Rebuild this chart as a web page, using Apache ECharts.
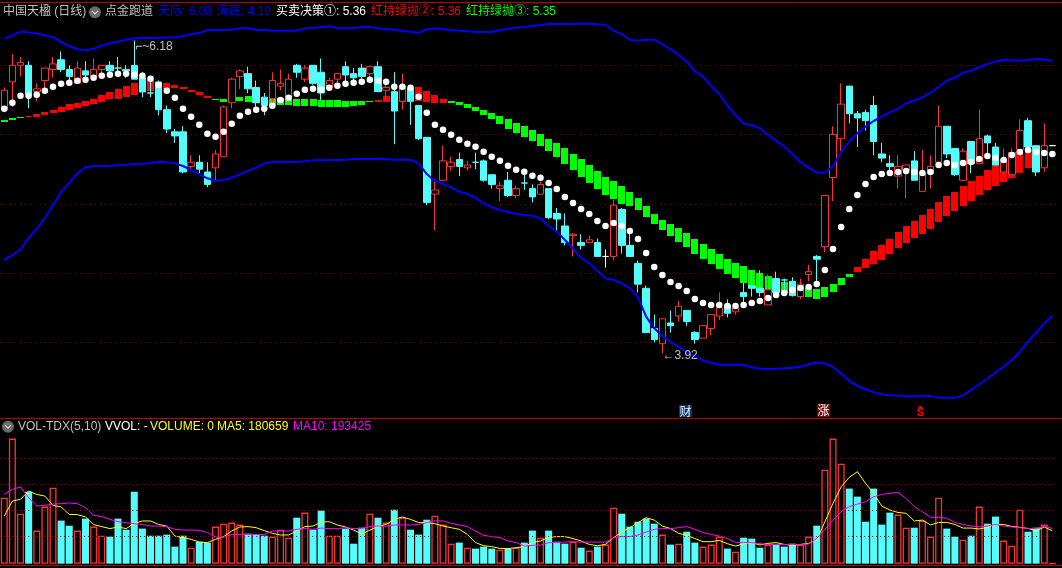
<!DOCTYPE html>
<html><head><meta charset="utf-8">
<style>html,body{margin:0;padding:0;background:#000;width:1062px;height:568px;overflow:hidden}#c{width:1062px;height:568px}</style>
<script src="https://cdn.jsdelivr.net/npm/echarts@6/dist/echarts.min.js"></script>
</head><body><div id="c"></div>
<script>
// [open, close, low, high]
const candles = [
[5.68,5.82,5.66,5.84],[5.88,6.00,5.70,6.08],[6.00,6.02,5.92,6.06],[6.00,5.79,5.69,6.03],[5.81,5.83,5.74,5.87],[5.89,5.98,5.81,5.98],[5.97,6.01,5.91,6.06],[6.04,5.97,5.95,6.10],[5.97,5.92,5.88,6.00],[5.87,5.98,5.87,6.03],
[5.96,5.93,5.89,6.03],[5.91,5.97,5.89,6.05],[5.97,6.00,5.91,6.00],[6.00,5.96,5.92,6.03],[5.98,5.98,5.92,6.06],[5.97,5.96,5.91,6.00],[6.00,5.90,5.90,6.18],[5.91,5.81,5.77,5.95],[5.80,5.80,5.77,5.91],[5.88,5.68,5.64,5.89],
[5.68,5.54,5.51,5.71],[5.52,5.49,5.44,5.54],[5.52,5.23,5.22,5.56],[5.27,5.30,5.24,5.35],[5.30,5.25,5.22,5.35],[5.23,5.14,5.12,5.30],[5.26,5.36,5.16,5.39],[5.34,5.70,5.34,5.71],[5.73,5.90,5.69,5.91],[5.92,5.96,5.83,5.97],
[5.94,5.83,5.80,5.99],[5.84,5.73,5.70,5.89],[5.77,5.71,5.64,5.80],[5.76,5.89,5.71,5.95],[5.85,5.87,5.82,5.97],[5.76,5.90,5.75,5.94],[6.00,5.95,5.91,6.01],[5.90,5.98,5.88,6.00],[6.00,5.87,5.86,6.00],[5.95,5.80,5.75,6.05],
[5.84,5.89,5.82,5.91],[5.90,5.94,5.84,5.94],[5.99,5.93,5.87,6.03],[5.94,5.91,5.86,5.98],[5.98,5.92,5.87,6.01],[5.94,5.99,5.91,6.00],[5.99,5.81,5.81,6.03],[5.82,5.84,5.75,5.89],[5.81,5.67,5.43,5.95],[5.74,5.85,5.68,5.94],
[5.83,5.74,5.57,5.85],[5.71,5.47,5.46,5.71],[5.48,5.01,4.99,5.48],[5.07,5.10,4.81,5.18],[5.17,5.31,5.17,5.42],[5.27,5.30,5.24,5.34],[5.32,5.27,5.20,5.37],[5.26,5.28,5.24,5.31],[5.30,5.30,5.25,5.37],[5.31,5.17,5.16,5.32],
[5.21,5.14,5.11,5.21],[5.11,5.13,5.02,5.16],[5.17,5.06,5.05,5.23],[5.06,5.11,5.04,5.13],[5.15,5.15,5.10,5.21],[5.11,5.05,5.01,5.14],[5.07,5.14,5.07,5.16],[5.11,4.90,4.89,5.11],[4.93,4.89,4.80,4.97],[4.84,4.72,4.70,4.93],
[4.77,4.78,4.62,4.79],[4.72,4.70,4.67,4.78],[4.72,4.74,4.72,4.77],[4.72,4.62,4.62,4.75],[4.62,4.62,4.54,4.67],[4.62,4.99,4.59,5.03],[4.96,4.70,4.64,4.97],[4.70,4.62,4.62,4.80],[4.57,4.42,4.36,4.59],[4.39,4.07,4.07,4.41],
[4.10,4.02,4.00,4.20],[3.99,4.17,3.92,4.17],[4.14,4.12,4.07,4.23],[4.19,4.26,4.15,4.30],[4.23,4.15,4.12,4.23],[4.07,4.02,3.99,4.08],[4.03,4.12,4.03,4.12],[4.10,4.20,4.05,4.20],[4.19,4.25,4.16,4.36],[4.27,4.21,4.18,4.31],
[4.22,4.25,4.20,4.28],[4.36,4.33,4.27,4.43],[4.41,4.39,4.33,4.52],[4.39,4.36,4.33,4.52],[4.27,4.38,4.27,4.49],[4.46,4.36,4.36,4.51],[4.45,4.45,4.34,4.46],[4.44,4.34,4.33,4.47],[4.33,4.42,4.31,4.46],[4.49,4.51,4.44,4.56],
[4.62,4.60,4.43,4.63],[4.69,5.06,4.65,5.06],[5.19,5.50,5.02,5.56],[5.47,5.72,5.38,5.87],[5.85,5.65,5.58,5.85],[5.65,5.62,5.41,5.67],[5.66,5.60,5.53,5.68],[5.71,5.45,5.35,5.78],[5.36,5.33,5.30,5.44],[5.29,5.27,5.21,5.35],
[5.20,5.27,5.11,5.35],[5.24,5.28,5.04,5.28],[5.31,5.17,5.17,5.38],[5.09,5.22,5.09,5.39],[5.22,5.27,5.11,5.35],[5.30,5.56,5.30,5.71],[5.56,5.36,5.33,5.56],[5.40,5.21,5.20,5.40],[5.17,5.38,5.17,5.40],[5.45,5.29,5.22,5.45],
[5.29,5.47,5.29,5.68],[5.49,5.44,5.35,5.50],[5.41,5.28,5.28,5.44],[5.23,5.32,5.23,5.40],[5.21,5.37,5.21,5.40],[5.39,5.53,5.38,5.61],[5.60,5.41,5.39,5.62],[5.42,5.23,5.20,5.42],[5.26,5.42,5.23,5.58],[5.42,5.42,5.42,5.42]
];
const cyanDoji = [14,18,58,64,96];
const whiteDoji = [74,129];
const upperBand = [
6.193,6.215,6.244,6.237,6.230,6.215,6.204,6.168,6.139,6.118,
6.108,6.120,6.142,6.159,6.170,6.185,6.195,6.197,6.197,6.199,
6.201,6.202,6.212,6.224,6.233,6.253,6.255,6.255,6.257,6.267,
6.267,6.255,6.255,6.250,6.250,6.250,6.250,6.267,6.269,6.277,
6.282,6.269,6.267,6.267,6.277,6.277,6.267,6.262,6.257,6.248,
6.243,6.235,6.260,6.267,6.260,6.253,6.250,6.246,6.240,6.240,
6.240,6.255,6.262,6.273,6.277,6.284,6.291,6.298,6.298,6.298,
6.298,6.300,6.300,6.296,6.293,6.250,6.224,6.183,6.178,6.185,
6.185,6.152,6.116,6.074,6.026,5.959,5.918,5.851,5.793,5.708,
5.641,5.578,5.569,5.545,5.497,5.456,5.412,5.360,5.300,5.261,
5.225,5.225,5.273,5.376,5.448,5.509,5.557,5.598,5.629,5.661,
5.685,5.726,5.744,5.769,5.802,5.845,5.889,5.910,5.947,5.961,
5.988,6.009,6.027,6.038,6.035,6.035,6.038,6.045,6.042,6.031];
const lowerBand = [
4.594,4.630,4.670,4.753,4.818,4.898,4.991,5.085,5.152,5.220,
5.264,5.271,5.273,5.275,5.278,5.282,5.287,5.290,5.295,5.304,
5.300,5.292,5.273,5.244,5.213,5.184,5.167,5.172,5.188,5.213,
5.237,5.261,5.292,5.302,5.302,5.302,5.302,5.307,5.314,5.314,
5.316,5.316,5.318,5.324,5.324,5.324,5.324,5.321,5.318,5.318,
5.316,5.292,5.215,5.165,5.143,5.119,5.087,5.071,5.044,5.001,
4.975,4.955,4.941,4.926,4.919,4.912,4.895,4.840,4.799,4.739,
4.679,4.607,4.570,4.517,4.462,4.450,4.426,4.392,4.325,4.185,
4.101,4.046,4.004,3.968,3.928,3.896,3.867,3.853,3.838,3.838,
3.838,3.836,3.820,3.809,3.807,3.807,3.812,3.817,3.824,3.841,
3.853,3.848,3.820,3.776,3.721,3.685,3.661,3.639,3.625,3.617,
3.615,3.610,3.610,3.612,3.612,3.600,3.600,3.600,3.617,3.656,
3.697,3.740,3.781,3.824,3.872,3.932,4.004,4.069,4.137,4.192];
const decisionDots = [
5.687,5.730,5.781,5.781,5.788,5.817,5.846,5.867,5.874,5.889,
5.896,5.911,5.925,5.932,5.939,5.939,5.932,5.925,5.903,5.858,
5.817,5.766,5.687,5.629,5.571,5.506,5.485,5.521,5.578,5.636,
5.665,5.679,5.687,5.708,5.749,5.766,5.795,5.824,5.831,5.824,
5.838,5.853,5.867,5.874,5.882,5.896,5.889,5.882,5.846,5.846,
5.838,5.773,5.658,5.571,5.535,5.499,5.463,5.434,5.412,5.376,
5.340,5.311,5.275,5.246,5.232,5.203,5.188,5.150,5.107,5.049,
5.006,4.962,4.926,4.876,4.840,4.861,4.840,4.804,4.746,4.645,
4.544,4.486,4.435,4.407,4.370,4.313,4.284,4.269,4.269,4.262,
4.262,4.269,4.284,4.298,4.320,4.342,4.356,4.378,4.392,4.399,
4.421,4.522,4.674,4.833,4.962,5.064,5.143,5.194,5.215,5.222,
5.230,5.237,5.230,5.222,5.230,5.280,5.295,5.280,5.295,5.302,
5.324,5.345,5.331,5.316,5.352,5.374,5.388,5.374,5.367,5.360];
const ribbonTwo = [
5.593,5.605,5.620,5.634,5.648,5.665,5.677,5.699,5.721,5.728,
5.742,5.757,5.786,5.807,5.829,5.851,5.872,5.894,5.894,5.879,
5.872,5.858,5.843,5.822,5.807,5.778,5.749,5.735,5.742,5.742,
5.735,5.728,5.721,5.713,5.713,5.713,5.706,5.706,5.706,5.699,
5.699,5.699,5.699,5.706,5.713,5.735,5.749,5.778,5.793,5.814,
5.836,5.843,5.814,5.786,5.757,5.728,5.713,5.692,5.670,5.641,
5.612,5.576,5.540,5.511,5.482,5.453,5.417,5.381,5.338,5.287,
5.244,5.194,5.150,5.107,5.064,5.035,4.999,4.984,4.955,4.905,
4.854,4.811,4.768,4.724,4.688,4.638,4.601,4.565,4.529,4.493,
4.464,4.428,4.407,4.385,4.378,4.363,4.356,4.334,4.327,4.327,
4.313,4.327,4.363,4.414,4.472,4.544,4.601,4.659,4.703,4.746,
4.796,4.840,4.876,4.919,4.962,5.013,5.056,5.085,5.129,5.165,
5.201,5.244,5.280,5.309,5.345,5.381,5.396,5.388,5.374,5.360];
const ribbonThree = [
5.605,5.620,5.627,5.627,5.627,5.641,5.653,5.663,5.677,5.692,
5.706,5.721,5.735,5.757,5.757,5.771,5.786,5.800,5.814,5.822,
5.829,5.836,5.829,5.807,5.786,5.764,5.755,5.757,5.764,5.771,
5.778,5.764,5.757,5.757,5.764,5.757,5.757,5.757,5.757,5.749,
5.749,5.749,5.742,5.742,5.742,5.742,5.735,5.735,5.728,5.735,
5.742,5.742,5.735,5.728,5.728,5.742,5.735,5.721,5.699,5.677,
5.656,5.634,5.612,5.583,5.562,5.533,5.504,5.468,5.439,5.403,
5.360,5.324,5.280,5.237,5.194,5.165,5.129,5.085,5.042,4.984,
4.926,4.883,4.854,4.825,4.789,4.746,4.710,4.674,4.638,4.601,
4.573,4.551,4.522,4.500,4.479,4.457,4.435,4.414,4.399,4.392,
4.385,4.399,4.421,4.464,4.493,4.508,4.536,4.565,4.594,4.638,
4.681,4.717,4.753,4.782,4.818,4.869,4.912,4.948,4.984,5.020,
5.064,5.100,5.129,5.157,5.186,5.222,5.259,5.287,5.316,5.350];
// volume, thousands
const volumes = [
363,688,275,396,182,314,418,237,209,182,
248,204,154,149,248,187,396,193,154,154,
160,94,154,88,121,116,204,220,226,215,
165,160,154,149,187,143,253,281,187,292,
154,154,193,110,198,275,253,226,297,253,
187,160,242,264,215,110,116,88,83,94,
83,77,83,88,116,182,143,182,121,110,
121,88,72,94,105,308,275,204,231,248,
220,160,105,110,176,116,94,105,149,83,
66,143,138,88,105,105,94,110,105,149,
209,517,688,550,413,369,231,413,215,281,
270,198,198,237,149,363,193,149,132,154,
314,220,259,127,99,297,176,198,215,0];
const ma5 = [
262,345,354,400,381,372,321,312,271,270,
257,215,204,193,202,193,222,235,235,216,
207,152,143,134,119,116,134,149,180,202,
204,198,182,167,158,158,180,204,207,229,
231,213,202,185,163,185,204,216,244,257,
244,226,226,220,207,198,189,161,116,99,
94,84,83,88,94,116,125,145,149,149,
138,125,106,99,106,143,174,198,226,253,
240,207,193,167,156,138,121,121,128,110,
97,110,116,103,112,116,106,101,106,112,
130,231,332,423,475,506,442,387,317,295,
282,277,235,240,213,227,227,216,196,196,
191,200,216,216,205,200,194,180,202,180.659];
const ma10 = [
381,409,422,363,317,321,328,330,334,330,
308,266,259,244,231,226,220,216,207,207,
204,189,185,185,183,171,147,145,161,161,
161,161,161,180,180,180,189,193,189,196,
193,193,198,193,194,204,207,207,213,213,
213,216,226,236,235,222,213,204,180,156,
149,143,125,116,97,101,103,116,116,119,
121,119,119,119,119,143,149,149,158,174,
189,193,193,198,204,189,171,161,152,138,
116,116,116,110,106,106,106,106,106,108,
139,189,240,286,314,328,341,368,381,387,
392,359,314,286,255,255,249,227,216,207,
203,207,216,207,202,198,194,194,205,193.425];
const volumeGuides = [151,294,437,580];
const categories = candles.map((_, i) => i);
const highLabel = {index:16, price:6.18, text:'6.18'};
const lowLabel = {index:81, price:3.92, text:'3.92'};

const RED='#ff3232', CYAN='#54fcfc', WHITE='#ffffff', GRAY='#c0c0c0';
const FONT='"Liberation Sans","Noto Sans CJK SC",sans-serif';

function candleColor(i){
  const [o,c]=candles[i];
  if(c>o) return RED;
  if(c<o) return CYAN;
  if(whiteDoji.includes(i)) return WHITE;
  return cyanDoji.includes(i)?CYAN:RED;
}
const candleData = candles.map((v,i)=>{
  const col=candleColor(i);
  const fill = v[1]>v[0] ? '#000' : col;
  return {value:v,itemStyle:{color:fill,color0:fill,borderColor:col,borderColor0:col,borderColorDoji:col,borderWidth:1}};
});
const volData = volumes.map((v,i)=>{
  const isCyan=candleColor(i)===CYAN;
  return {value:v,itemStyle:isCyan?{color:CYAN,borderWidth:0}:{color:'#000',borderColor:RED,borderWidth:1.3}};
});
const ribbonData = categories.map(i=>[i,ribbonTwo[i],ribbonThree[i]]);

function header(x,y,text,fill){
  return {type:'text',x,y,silent:true,z:50,style:{text,fill,font:'12px '+FONT,textVerticalAlign:'middle'}};
}
function chevron(cx,cy){
  return [
    {type:'circle',shape:{cx,cy,r:6},silent:true,z:50,style:{fill:'#6a6a6a'}},
    {type:'polyline',shape:{points:[[cx-3,cy-1.5],[cx,cy+1.5],[cx+3,cy-1.5]]},silent:true,z:51,style:{stroke:'#e0e0e0',lineWidth:1.2,fill:'none'}}
  ];
}
function rule(y,color){
  return {type:'line',shape:{x1:0,y1:y,x2:1062,y2:y},silent:true,z:40,style:{stroke:color,lineWidth:1}};
}

const graphics = [
  rule(2.5,'#c00000'),rule(418.5,'#c00000'),rule(565.5,'#c00000'),
  header(3,12,'中国天楹 (日线)',GRAY),
  ...chevron(95,12.3),
  header(105,12,'点金跑道',GRAY),
  header(158,12,'天际: 6.03','#0000ff'),
  header(217,12,'海底: 4.19','#0000ff'),
  header(276,12,'买卖决策①: 5.36',WHITE),
  header(371,12,'红持绿抛②: 5.36','#ff0000'),
  header(466,12,'红持绿抛③: 5.35','#00ff00'),
  ...chevron(8,426.7),
  header(18,426.5,'VOL-TDX(5,10)',GRAY),
  header(105,426.5,'VVOL: -',WHITE),
  header(150,426.5,'VOLUME: 0','#ffff00'),
  header(217,426.5,'MA5: 180659','#ffff00'),
  header(293,426.5,'MA10: 193425','#ff00ff'),
  {type:'rect',shape:{x:679,y:405,width:13,height:12},silent:true,z:45,style:{fill:'#0a3a6a'}},
  {type:'text',x:685.5,y:411,silent:true,z:46,style:{text:'财',fill:'#e8f0ff',font:'12px "Noto Sans CJK SC"',textAlign:'center',textVerticalAlign:'middle'}},
  {type:'rect',shape:{x:817,y:404,width:13,height:13},silent:true,z:45,style:{fill:'#7a0a0a'}},
  {type:'text',x:823.5,y:410.5,silent:true,z:46,style:{text:'涨',fill:'#ffffff',font:'12px "Noto Sans CJK SC"',textAlign:'center',textVerticalAlign:'middle'}},
  {type:'polygon',shape:{points:[[920.5,405.5],[917.5,408.5],[923.5,408.5]]},silent:true,z:46,style:{fill:'#ff0000'}},
  {type:'text',x:920.5,y:413,silent:true,z:46,style:{text:'S',fill:'#ff0000',font:'bold 11px "Liberation Sans"',textAlign:'center',textVerticalAlign:'middle'}}
];

const chart = echarts.init(document.getElementById('c'),null,{renderer:'canvas'});
chart.setOption({
  animation:false,
  backgroundColor:'#000',
  graphic:graphics,
  grid:[
    {left:0.2,width:1056.25,top:3,height:408.55,containLabel:false},
    {left:0.2,width:1056.25,top:418.7,height:145,containLabel:false}
  ],
  xAxis:[
    {type:'category',gridIndex:0,data:categories,show:false,boundaryGap:true},
    {type:'category',gridIndex:1,data:categories,show:false,boundaryGap:true}
  ],
  yAxis:[
    {type:'value',gridIndex:0,min:3.5,max:6.45,interval:0.5,show:true,
     axisLine:{show:false},axisTick:{show:false},axisLabel:{show:false},
     splitLine:{show:true,showMaxLine:false,showMinLine:false,lineStyle:{color:'#8a0000',type:[1,4],width:1}}},
    {type:'value',gridIndex:1,min:0,max:797.5,show:false,splitLine:{show:false}}
  ],
  series:[
    {type:'candlestick',name:'K',xAxisIndex:0,yAxisIndex:0,data:candleData,barWidth:7,clip:false,
     markPoint:{symbol:'circle',symbolSize:0,silent:true,animation:false,
       data:[
        {coord:[highLabel.index,highLabel.price],label:{show:true,position:'right',distance:1,offset:[0,6],formatter:'⌐~'+highLabel.text,color:GRAY,fontSize:12,fontFamily:FONT}},
        {coord:[lowLabel.index,lowLabel.price],label:{show:true,position:'right',distance:0,offset:[0,2],formatter:'←'+lowLabel.text,color:GRAY,fontSize:12,fontFamily:FONT}}
       ]}},
    {type:'scatter',name:'买卖决策①',xAxisIndex:0,yAxisIndex:0,data:decisionDots,symbol:'circle',symbolSize:6.5,itemStyle:{color:'#fff',opacity:1},silent:true},
    {type:'custom',name:'红持绿抛',xAxisIndex:0,yAxisIndex:0,data:ribbonData,encode:{x:0,y:[1,2]},silent:true,
     renderItem:function(params,api){
       const i=api.value(0),two=api.value(1),three=api.value(2);
       const a=api.coord([i,two]),b=api.coord([i,three]);
       const x=Math.round(a[0]-3.5),t=Math.round(Math.min(a[1],b[1])),bt=Math.round(Math.max(a[1],b[1]));
       return {type:'rect',shape:{x:x,y:t,width:7,height:Math.max(1,bt-t)},style:{fill:two>=three?'#ff0000':'#00ff00'}};
     }},
    {type:'line',name:'天际',xAxisIndex:0,yAxisIndex:0,data:upperBand,showSymbol:false,lineStyle:{color:'#0000ff',width:2},silent:true},
    {type:'line',name:'海底',xAxisIndex:0,yAxisIndex:0,data:lowerBand,showSymbol:false,lineStyle:{color:'#0000ff',width:2},silent:true},
    {type:'bar',name:'VOLUME',xAxisIndex:1,yAxisIndex:1,data:volData,barWidth:7,silent:true,
     markLine:{silent:true,symbol:'none',animation:false,label:{show:false},lineStyle:{color:'#a00000',type:[1,3],width:1},
       data:volumeGuides.map(v=>({yAxis:v}))}},
    {type:'line',name:'MA5',xAxisIndex:1,yAxisIndex:1,data:ma5,showSymbol:false,lineStyle:{color:'#ffff00',width:1},silent:true},
    {type:'line',name:'MA10',xAxisIndex:1,yAxisIndex:1,data:ma10,showSymbol:false,lineStyle:{color:'#ff00ff',width:1},silent:true}
  ]
});
</script></body></html>
